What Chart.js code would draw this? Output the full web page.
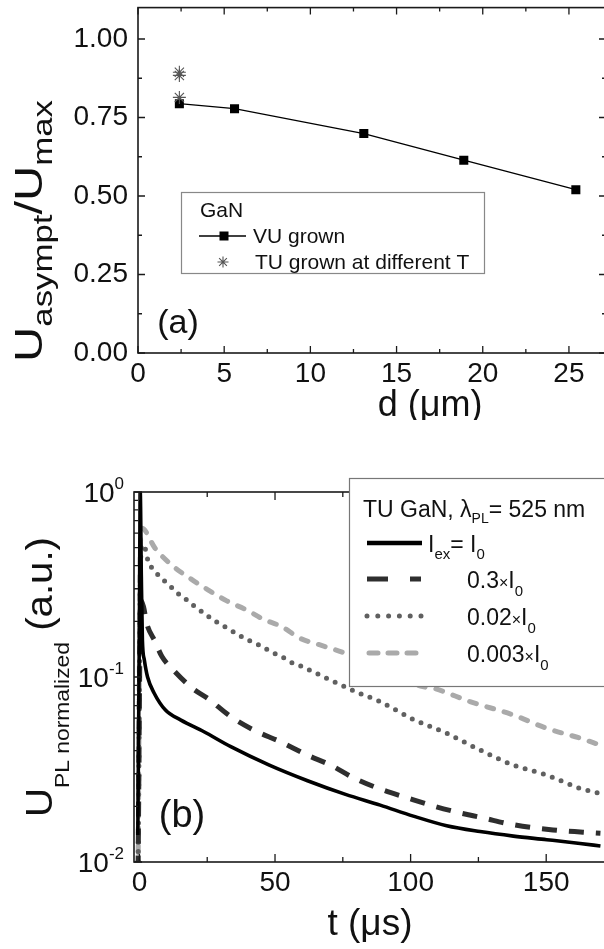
<!DOCTYPE html>
<html><head><meta charset="utf-8">
<script src="https://cdn.jsdelivr.net/npm/chart.js@4/dist/chart.umd.min.js"></script>
<style>
html,body{margin:0;padding:0;background:#fff;overflow:hidden;width:604px;height:949px;position:relative;}
canvas{position:absolute;left:0;}
#c1{top:0;}
#c2{top:420px;}
</style></head><body>
<canvas id="c1" width="620" height="420" style="width:620px;height:420px"></canvas>
<canvas id="c2" width="630" height="529" style="width:630px;height:529px"></canvas>
<script>
// ================= DATA =================
// Panel (a)
const dVU = [2.4, 5.6, 13.1, 18.9, 25.4];
const ratioVU = [0.794, 0.778, 0.699, 0.614, 0.520];
const dTU = [2.4, 2.4, 2.4];
const ratioTU = [0.894, 0.884, 0.814];
const xTicksA = [0, 5, 10, 15, 20, 25];
const yTicksA = [0, 0.25, 0.5, 0.75, 1.0];

// Panel (b)
const tSolid = [-0.6, 0, 0.3, 0.7, 1.1, 1.8, 3, 5.4, 9.6, 15.3, 23.8, 33.7, 47.9, 62, 76, 88.8, 101, 113.3, 125.6, 137.9, 150.2, 162.5, 170];
const vSolid = [0.014, 0.2, 1.0, 0.35, 0.158, 0.124, 0.1, 0.082, 0.0663, 0.0585, 0.0506, 0.042, 0.0334, 0.0275, 0.0232, 0.0203, 0.0177, 0.0157, 0.0146, 0.0138, 0.0132, 0.0126, 0.0122];
const tDash = [-0.5, 0.5, 1.5, 2.7, 5.8, 8.3, 12.5, 19.5, 25.2, 33.7, 42.2, 52.1, 62, 70.5, 79, 88.8, 98.9, 108.3, 117, 126.8, 137, 152.5, 163.6, 170];
const vDash = [0.009, 0.26, 0.24, 0.195, 0.155, 0.129, 0.109, 0.087, 0.0766, 0.061, 0.0516, 0.0446, 0.0378, 0.0334, 0.0285, 0.0248, 0.0222, 0.0201, 0.0186, 0.0173, 0.016, 0.0149, 0.0145, 0.0143];
const tDot = [-0.5, 0.6, 1.5, 3.3, 5.8, 8.6, 11, 13.8, 16.8, 20.2, 24.2, 27.3, 30.4, 33.4, 37.1, 40.2, 43.3, 46.3, 49.4, 52.5, 55.5, 59.9, 70, 80, 88.7, 101, 113.3, 125.6, 137.9, 150.2, 162.5, 169.8];
const vDot = [0.009, 0.5, 0.52, 0.42, 0.371, 0.337, 0.314, 0.286, 0.266, 0.242, 0.219, 0.203, 0.191, 0.18, 0.167, 0.158, 0.151, 0.143, 0.135, 0.129, 0.121, 0.114, 0.097, 0.083, 0.0736, 0.059, 0.0496, 0.0403, 0.0334, 0.0295, 0.025, 0.0235];
const tLight = [-0.5, 0.5, 0.9, 5.8, 11.9, 18.7, 25.4, 32.2, 39.6, 45.7, 52.5, 59.2, 66.6, 76, 90, 104.5, 108.4, 121.9, 137.9, 150.2, 162.5, 169.8];
const vLight = [0.009, 0.6, 0.636, 0.496, 0.403, 0.341, 0.295, 0.258, 0.23, 0.205, 0.187, 0.162, 0.149, 0.134, 0.108, 0.0887, 0.0869, 0.0736, 0.0623, 0.0528, 0.0467, 0.0429];
const xTicksB = [0, 50, 100, 150];
const yExpB = [0, -1, -2];

// ================= HELPERS =================
const FONT = "'Liberation Sans', Arial, Helvetica, sans-serif";
const pts = (xs, ys) => xs.map((x, i) => ({x: x, y: ys[i]}));
function rich(ctx, x, y, parts) {
  let cx = x;
  for (const p of parts) {
    ctx.font = p.size + 'px ' + FONT;
    ctx.fillText(p.t, cx, y + (p.dy || 0));
    cx += ctx.measureText(p.t).width + (p.gap || 0);
  }
  return cx;
}
function richWidth(ctx, parts) {
  let w = 0;
  for (const p of parts) { ctx.font = p.size + 'px ' + FONT; w += ctx.measureText(p.t).width + (p.gap || 0); }
  return w;
}
function drawStar(ctx, x, y, r) {
  ctx.beginPath();
  for (let k = 0; k < 4; k++) {
    const a = k * Math.PI / 4;
    ctx.moveTo(x - r * Math.cos(a), y - r * Math.sin(a));
    ctx.lineTo(x + r * Math.cos(a), y + r * Math.sin(a));
  }
  ctx.stroke();
}
function tickLine(ctx, x1, y1, x2, y2) { ctx.moveTo(x1, y1); ctx.lineTo(x2, y2); }
function rotatedTitle(ctx, x, yBottom, parts, targetLen) {
  const w = richWidth(ctx, parts);
  ctx.save();
  ctx.translate(x, yBottom);
  ctx.rotate(-Math.PI / 2);
  ctx.scale(targetLen / w, 1);
  rich(ctx, 0, 0, parts);
  ctx.restore();
}

// ================= PANEL (a) =================
const plugA = {
  id: 'plugA',
  afterDraw(chart) {
    const {ctx, chartArea: a, scales: {x, y}} = chart;
    ctx.save();
    ctx.strokeStyle = '#1a1a1a';
    ctx.lineWidth = 1.6;
    ctx.strokeRect(a.left, a.top, a.right - a.left, a.bottom - a.top);
    ctx.lineWidth = 1.3;
    ctx.beginPath();
    for (let v = 0; v <= x.max + 1e-9; v += 2.5) {
      const p = x.getPixelForValue(v);
      const L = (Math.abs(v / 5 - Math.round(v / 5)) < 1e-6) ? 7 : 4;
      tickLine(ctx, p, a.bottom, p, a.bottom - L);
      tickLine(ctx, p, a.top, p, a.top + L);
    }
    for (let v = 0; v <= y.max + 1e-9; v += 0.125) {
      const p = y.getPixelForValue(v);
      const L = (Math.abs(v / 0.25 - Math.round(v / 0.25)) < 1e-6) ? 7 : 4;
      tickLine(ctx, a.left, p, a.left + L, p);
      tickLine(ctx, a.right, p, a.right - L, p);
    }
    ctx.stroke();

    // legend
    ctx.fillStyle = '#fff';
    ctx.fillRect(181, 192, 304, 82);
    ctx.strokeStyle = '#888';
    ctx.lineWidth = 1.2;
    ctx.strokeRect(181.5, 192.5, 303, 81);
    ctx.fillStyle = '#111';
    ctx.textBaseline = 'alphabetic';
    ctx.textAlign = 'left';
    rich(ctx, 200, 217, [{t: 'GaN', size: 21}]);
    ctx.strokeStyle = '#000';
    ctx.lineWidth = 1.3;
    ctx.beginPath(); ctx.moveTo(199, 236); ctx.lineTo(246, 236); ctx.stroke();
    ctx.fillStyle = '#000';
    ctx.fillRect(219.5, 231.5, 9, 9);
    ctx.fillStyle = '#111';
    rich(ctx, 253, 243, [{t: 'VU grown', size: 21}]);
    ctx.strokeStyle = '#555';
    ctx.lineWidth = 1.1;
    drawStar(ctx, 223, 262, 5.5);
    rich(ctx, 255, 269, [{t: 'TU grown at different T', size: 21}]);

    // (a)
    ctx.font = '34px ' + FONT;
    ctx.textAlign = 'center';
    ctx.textBaseline = 'middle';
    ctx.fillText('(a)', 178, 324);

    // x title
    ctx.textAlign = 'left';
    ctx.textBaseline = 'alphabetic';
    const xt = [{t: 'd (μm)', size: 36}];
    rich(ctx, 430 - richWidth(ctx, xt) / 2, 416, xt);

    // y title (rotated)
    rotatedTitle(ctx, 42, 362, [
      {t: 'U', size: 38},
      {t: 'asympt', size: 27, dy: 10},
      {t: '/U', size: 38},
      {t: 'max', size: 27, dy: 10}
    ], 262);
    ctx.restore();
  }
};

new Chart(document.getElementById('c1'), {
  type: 'scatter',
  data: {
    datasets: [
      {
        label: 'TU grown at different T',
        data: pts(dTU, ratioTU),
        showLine: false,
        pointStyle: 'star',
        pointRadius: 6.5,
        pointBorderColor: '#555',
        pointBorderWidth: 1.1,
        pointBackgroundColor: '#555'
      },
      {
        label: 'VU grown',
        data: pts(dVU, ratioVU),
        showLine: true,
        borderColor: '#000',
        borderWidth: 1.3,
        pointStyle: 'rect',
        pointRadius: 6.4,
        pointBackgroundColor: '#000',
        pointBorderColor: '#000',
        pointBorderWidth: 0
      }
    ]
  },
  options: {
    animation: false,
    responsive: false,
    events: [],
    layout: {padding: {left: 0, top: 7, right: 14, bottom: 0}},
    plugins: {legend: {display: false}, tooltip: {enabled: false}},
    scales: {
      x: {
        type: 'linear', min: 0, max: 27.15,
        grid: {display: false, drawTicks: false},
        border: {display: false},
        ticks: {stepSize: 5, includeBounds: false, padding: 7, color: '#111', maxRotation: 0, autoSkip: false,
                font: {family: FONT, size: 28, lineHeight: 1}},
        afterFit(s) { s.height = 67; s.paddingLeft = 0; s.paddingRight = 0; }
      },
      y: {
        type: 'linear', min: 0, max: 1.1,
        grid: {display: false, drawTicks: false},
        border: {display: false},
        ticks: {stepSize: 0.25, includeBounds: false, padding: 10, color: '#111',
                callback: v => Number(v).toFixed(2),
                font: {family: FONT, size: 28, lineHeight: 1}},
        afterFit(s) { s.width = 138; s.paddingTop = 0; s.paddingBottom = 0; }
      }
    }
  },
  plugins: [plugA]
});

// ================= PANEL (b) =================
const plugB = {
  id: 'plugB',
  afterDraw(chart) {
    const {ctx, chartArea: a, scales: {x, y}} = chart;
    ctx.save();
    ctx.strokeStyle = '#1a1a1a';
    ctx.lineWidth = 1.6;
    ctx.strokeRect(a.left, a.top, a.right - a.left, a.bottom - a.top);
    ctx.lineWidth = 1.3;
    ctx.beginPath();
    for (let v = 0; v <= x.max + 1e-9; v += 25) {
      const p = x.getPixelForValue(v);
      const L = (v % 50 === 0) ? 8 : 5;
      tickLine(ctx, p, a.bottom, p, a.bottom - L);
      tickLine(ctx, p, a.top, p, a.top + L);
    }
    for (const e of [-2, -1]) {
      for (let k = 1; k <= 9; k++) {
        const p = y.getPixelForValue(k * Math.pow(10, e));
        const L = (k === 1) ? 8 : 4;
        tickLine(ctx, a.left, p, a.left + L, p);
        tickLine(ctx, a.right, p, a.right - L, p);
      }
    }
    const p1 = y.getPixelForValue(1);
    tickLine(ctx, a.left, p1, a.left + 8, p1);
    ctx.stroke();

    // y tick labels 10^n
    ctx.fillStyle = '#111';
    ctx.textAlign = 'left';
    ctx.textBaseline = 'alphabetic';
    for (const e of yExpB) {
      const p = y.getPixelForValue(Math.pow(10, e));
      const parts = [{t: '10', size: 28}, {t: String(e), size: 17, dy: -13}];
      const w = richWidth(ctx, parts);
      rich(ctx, 124 - w, p + 10, parts);
    }

    // legend
    ctx.fillStyle = '#fff';
    ctx.fillRect(349, 58, 300, 209);
    ctx.strokeStyle = '#777';
    ctx.lineWidth = 1.2;
    ctx.strokeRect(349.5, 58.5, 300, 208);
    ctx.fillStyle = '#111';
    rich(ctx, 363, 97, [
      {t: 'TU GaN, λ', size: 23},
      {t: 'PL', size: 14, dy: 6},
      {t: '= 525 nm', size: 23}
    ]);
    // row 1 solid
    ctx.strokeStyle = '#000';
    ctx.lineWidth = 4.5;
    ctx.lineCap = 'butt';
    ctx.beginPath(); ctx.moveTo(367, 123); ctx.lineTo(422, 123); ctx.stroke();
    rich(ctx, 428, 132, [
      {t: 'I', size: 23},
      {t: 'ex', size: 15, dy: 7},
      {t: '= I', size: 23},
      {t: '0', size: 15, dy: 7}
    ]);
    // row 2 dark dashed
    ctx.strokeStyle = '#2e2e2e';
    ctx.lineWidth = 5;
    ctx.setLineDash([21, 22]);
    ctx.beginPath(); ctx.moveTo(367, 159); ctx.lineTo(421, 159); ctx.stroke();
    // row 3 dotted
    ctx.strokeStyle = '#606060';
    ctx.lineCap = 'round';
    ctx.setLineDash([0, 10.8]);
    ctx.beginPath(); ctx.moveTo(367, 196); ctx.lineTo(422, 196); ctx.stroke();
    // row 4 light dashed
    ctx.strokeStyle = '#aaaaaa';
    ctx.setLineDash([9, 10]);
    ctx.beginPath(); ctx.moveTo(369, 233); ctx.lineTo(417, 233); ctx.stroke();
    ctx.setLineDash([]);
    ctx.lineCap = 'butt';
    const rowsTxt = [['0.3', 168], ['0.02', 205], ['0.003', 242]];
    for (const [c, yy] of rowsTxt) {
      rich(ctx, 467, yy, [
        {t: c, size: 23},
        {t: '×', size: 16},
        {t: 'I', size: 23},
        {t: '0', size: 15, dy: 8}
      ]);
    }

    // (b)
    ctx.font = '38px ' + FONT;
    ctx.textAlign = 'center';
    ctx.textBaseline = 'middle';
    ctx.fillText('(b)', 182, 397);

    // x title
    ctx.textAlign = 'left';
    ctx.textBaseline = 'alphabetic';
    const xt = [{t: 't (μs)', size: 37}];
    rich(ctx, 370 - richWidth(ctx, xt) / 2, 515, xt);

    // y title rotated
    rotatedTitle(ctx, 52, 397, [
      {t: 'U', size: 37},
      {t: 'PL normalized', size: 21, dy: 17},
      {t: ' (a.u.)', size: 37}
    ], 280);
    ctx.restore();
  }
};

new Chart(document.getElementById('c2'), {
  type: 'scatter',
  data: {
    datasets: [
      {label: 'Iex = I0', data: pts(tSolid, vSolid), showLine: true, borderColor: '#000', borderWidth: 3.6,
       pointRadius: 0, cubicInterpolationMode: 'monotone'},
      {label: '0.3xI0', data: pts(tDash, vDash), showLine: true, borderColor: '#2e2e2e', borderWidth: 5,
       borderDash: [15, 12], pointRadius: 0, cubicInterpolationMode: 'monotone'},
      {label: '0.02xI0', data: pts(tDot, vDot), showLine: true, borderColor: '#606060', borderWidth: 5,
       borderDash: [0, 9.5], borderCapStyle: 'round', pointRadius: 0, cubicInterpolationMode: 'monotone'},
      {label: '0.003xI0', data: pts(tLight, vLight), showLine: true, borderColor: '#aaaaaa', borderWidth: 5,
       borderDash: [7, 11], borderCapStyle: 'round', pointRadius: 0, cubicInterpolationMode: 'monotone'}
    ]
  },
  options: {
    animation: false,
    responsive: false,
    events: [],
    layout: {padding: {left: 0, top: 72, right: 16, bottom: 0}},
    plugins: {legend: {display: false}, tooltip: {enabled: false}},
    scales: {
      x: {
        type: 'linear', min: -2, max: 175,
        grid: {display: false, drawTicks: false},
        border: {display: false},
        ticks: {stepSize: 50, includeBounds: false, padding: 7, color: '#111', maxRotation: 0, autoSkip: false,
                font: {family: FONT, size: 28, lineHeight: 1}},
        afterFit(s) { s.height = 87; s.paddingLeft = 0; s.paddingRight = 0; }
      },
      y: {
        type: 'logarithmic', min: 0.01, max: 1,
        grid: {display: false, drawTicks: false},
        border: {display: false},
        ticks: {display: false},
        afterFit(s) { s.width = 134; s.paddingTop = 0; s.paddingBottom = 0; }
      }
    }
  },
  plugins: [plugB]
});
</script>
</body></html>
